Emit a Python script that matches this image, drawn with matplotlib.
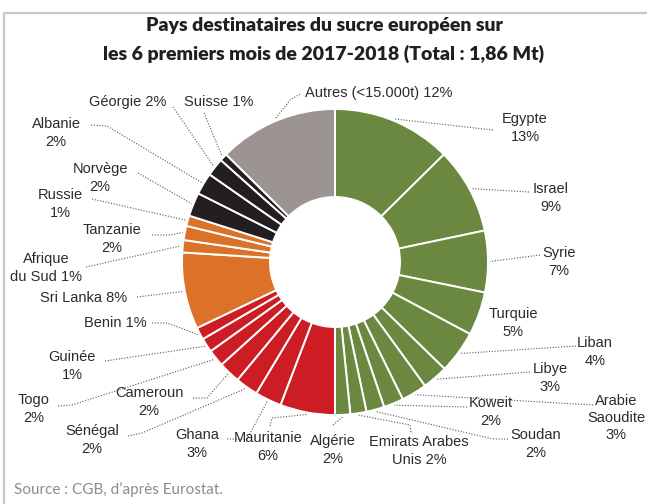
import matplotlib.pyplot as plt
import numpy as np
from matplotlib.lines import Line2D

# Shares (%), clockwise from 12 o'clock
countries = ["Egypte", "Israel", "Syrie", "Turquie", "Liban", "Libye",
             "Arabie Saoudite", "Koweit", "Soudan", "Emirats Arabes Unis",
             "Algérie", "Mauritanie", "Ghana", "Sénégal", "Cameroun", "Togo",
             "Guinée", "Benin", "Sri Lanka", "Afrique du Sud", "Tanzanie",
             "Russie", "Norvège", "Albanie", "Géorgie", "Suisse", "Autres"]
shares = [12.6, 9.1, 6.5, 4.6, 4.5, 2.7, 2.7, 2.1, 1.9, 1.7, 1.6,
          5.8, 2.8, 2.4, 2.3, 1.8, 1.5, 1.3,
          8.1, 1.3, 1.5, 1.1,
          2.5, 2.3, 1.9, 0.8,
          12.6]
groups = ["g"] * 11 + ["r"] * 7 + ["o"] * 4 + ["k"] * 4 + ["a"]
label_text = ["Egypte\n13%", "Israel\n9%", "Syrie\n7%", "Turquie\n5%",
              "Liban\n4%", "Libye\n3%", "Arabie\nSaoudite\n3%", "Koweit\n2%",
              "Soudan\n2%", "Emirats Arabes\nUnis 2%", "Algérie\n2%",
              "Mauritanie\n6%", "Ghana\n3%", "Sénégal\n2%", "Cameroun\n2%",
              "Togo\n2%", "Guinée\n1%", "Benin 1%", "Sri Lanka 8%",
              "Afrique\ndu Sud 1%", "Tanzanie\n2%", "Russie\n1%", "Norvège\n2%",
              "Albanie\n2%", "Géorgie 2%", "Suisse 1%", "Autres (<15.000t) 12%"]

palette = {"g": "#6a8840", "r": "#cc1c24", "o": "#dc7229",
           "k": "#231f20", "a": "#9b9491"}

# layout (pixel coords, y downward): label centres and leader points
label_xy = [(525, 128), (551, 198), (559, 262), (513, 323), (595, 352),
            (550, 378), (616, 418), (491, 412), (536, 444), (419, 451),
            (333, 450), (268, 447), (197, 444), (92, 440), (149, 402),
            (34, 409), (72, 366), (115, 323), (84, 298), (46, 268),
            (112, 239), (60, 204), (100, 178), (56, 133), (128, 102),
            (219, 102), (379, 93)]
leader_pts = [[(493, 130)], [(529, 192)], [(540, 255)], None, [(576, 346)],
              [(530, 372)], [(593, 405)], [(467, 407)],
              [(508, 439), (493, 439)], [(411, 432), (410, 425)],
              [(333, 425)], [(270, 426), (272, 418)], [(227, 439), (247, 439)],
              [(128, 436), (142, 433)], [(193, 398), (207, 398)],
              [(58, 406), (72, 405)], [(105, 361)],
              [(152, 323), (167, 323)], [(137, 297)], [(86, 267)],
              [(152, 235), (170, 235)], [(92, 199)], [(138, 173)],
              [(91, 125), (107, 126)], [(173, 107)], [(204, 113)],
              [(300, 94), (290, 100)]]

cx, cy, R, W = 335, 262, 153, 88

fig = plt.figure(figsize=(6.47, 5.04), dpi=100)
ax = fig.add_axes([0, 0, 1, 1])

wedges, _ = ax.pie(shares, radius=R, center=(cx, cy), startangle=-90,
                   counterclock=True, colors=[palette[g] for g in groups],
                   wedgeprops=dict(width=W, edgecolor="white", linewidth=1.4))

ax.set_xlim(0, 647)
ax.set_ylim(504, 0)
ax.set_aspect("equal")
ax.axis("off")

for w, txt, (tx, ty), pts in zip(wedges, label_text, label_xy, leader_pts):
    ax.text(tx, ty, txt, ha="center", va="center", fontsize=10.5,
            family="Liberation Sans", color="#2b2b2b", linespacing=1.3)
    if pts is None:
        continue
    th = np.deg2rad((w.theta1 + w.theta2) / 2)
    end = (cx + (R + 2) * np.cos(th), cy + (R + 2) * np.sin(th))
    xs = [p[0] for p in pts] + [end[0]]
    ys = [p[1] for p in pts] + [end[1]]
    ax.plot(xs, ys, ls=(0, (1, 1.5)), lw=0.8, color="#555555")

ax.text(324, 40, "Pays destinataires du sucre européen sur\n"
        "les 6 premiers mois de 2017-2018 (Total : 1,86 Mt)",
        ha="center", va="center", fontsize=14, fontweight="heavy",
        family="Lato", color="#231f20", linespacing=1.65)

ax.text(14, 490, "Source : CGB, d’après Eurostat.", ha="left", va="center",
        fontsize=11, family="Lato", color="#8c8c8c")

# frame (top and left edges visible)
ax.add_line(Line2D([4, 4, 660], [520, 13, 13], color="#c8c8c8", lw=1.6))

fig.savefig("out.png", dpi=100)
